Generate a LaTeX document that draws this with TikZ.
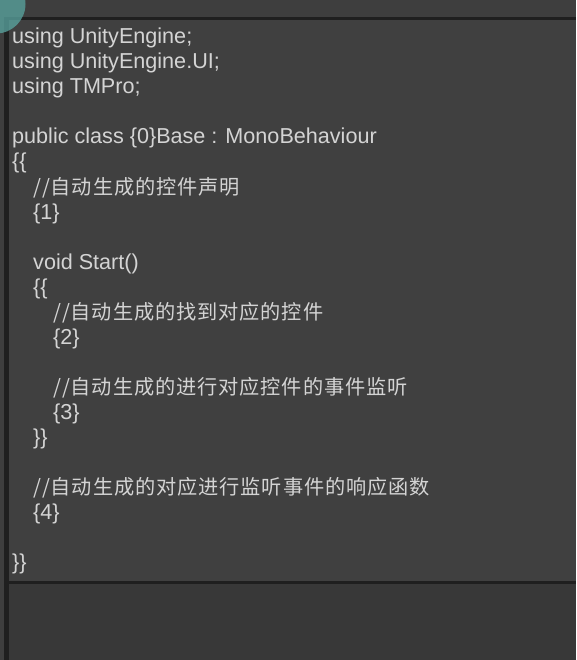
\documentclass[tikz,border=0pt]{standalone}
\usepackage{fontspec}
\setmainfont{Liberation Sans}
\newfontfamily\cjk{Noto Sans CJK SC}[LetterSpace=4.5]

\definecolor{panel}{HTML}{3E3E3E}
\definecolor{editor}{HTML}{404040}
\definecolor{lower}{HTML}{383838}
\definecolor{edge}{HTML}{1F1F1F}
\definecolor{codetext}{HTML}{D4D4D4}
\definecolor{teal}{HTML}{5AA7A2}

\tikzset{
    code/.style={anchor=base west, inner sep=0pt, text=codetext,
        font=\fontsize{21.6}{25}\selectfont},
    note/.style={code, font=\fontsize{20.2}{25}\selectfont\cjk}
}

\begin{document}
\begin{tikzpicture}[x=1pt, y=-1pt]

    \useasboundingbox (0,0) rectangle (576,660);

    %% Window

    % Background
    \fill[lower] (0,0) rectangle (576,660);
    \fill[panel] (0,0) rectangle (576,18);
    \fill[panel] (0,0) rectangle (4,660);

    % Text field
    \fill[editor] (9,20) rectangle (576,581);
    \fill[edge] (4,17.5) rectangle (576,20.5);
    \fill[edge] (8,581) rectangle (576,583.5);
    \fill[edge] (4,17.5) rectangle (8.5,660);

    % Cursor mark
    \fill[teal, opacity=0.75] (-4,4) circle (29.5);

    %% Code lines
    \node[code] (using1) at (12,44) {using UnityEngine;};
    \node[code] (using2) at (12,69) {using UnityEngine.UI;};
    \node[code] (using3) at (12,94) {using TMPro;};

    \node[code] (class) at (12,144) {public class \{0\}Base : MonoBehaviour};
    \node[code] (open1) at (12,169) {\{\{};
    \node[note] (note1) at (33,194) {//自动生成的控件声明};
    \node[code] (slot1) at (33,219) {\{1\}};

    \node[code] (start) at (33,269) {void Start()};
    \node[code] (open2) at (33,294) {\{\{};
    \node[note] (note2) at (53,319) {//自动生成的找到对应的控件};
    \node[code] (slot2) at (53,344) {\{2\}};

    \node[note] (note3) at (53,394) {//自动生成的进行对应控件的事件监听};
    \node[code] (slot3) at (53,419) {\{3\}};
    \node[code] (close2) at (33,444) {\}\}};

    \node[note] (note4) at (33,494) {//自动生成的对应进行监听事件的响应函数};
    \node[code] (slot4) at (33,519) {\{4\}};

    \node[code] (close1) at (12,569) {\}\}};

\end{tikzpicture}
\end{document}
